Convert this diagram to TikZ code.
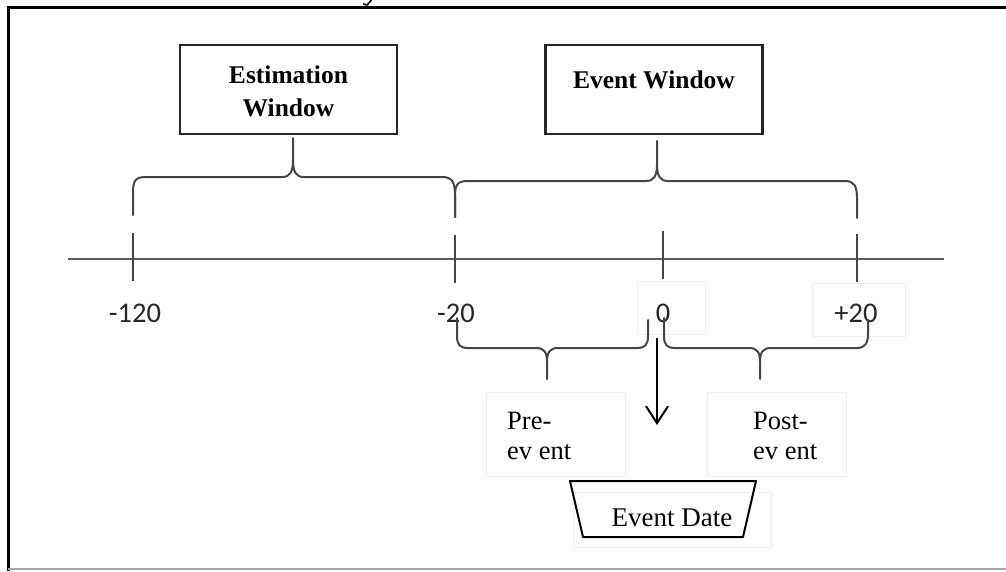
\documentclass[tikz,border=0pt]{standalone}
\usepackage{fontspec}
\setmainfont{Liberation Serif}
\newfontfamily\lblfont{Carlito}
\usetikzlibrary{arrows.meta}
\definecolor{bracegray}{HTML}{454545}
\definecolor{axisgray}{HTML}{5A5A5A}
\definecolor{faintline}{HTML}{F0F0F0}
\begin{document}
\begin{tikzpicture}[x=1pt,y=-1pt,
  titlebox/.style={draw=black!85,line width=2.2pt,minimum width=217pt,minimum height=89pt,inner sep=0pt},
  titletext/.style={font=\bfseries\fontsize{25.5}{33}\selectfont,align=center,inner sep=0pt},
  bracepath/.style={draw=bracegray,line width=2pt,line join=round,line cap=round},
  axisline/.style={draw=axisgray,line width=2.2pt},
  tickmark/.style={draw=bracegray,line width=1.8pt},
  ticklabel/.style={font=\lblfont\fontsize{28.5}{30}\selectfont,text=black!85,inner sep=0pt},
  faint/.style={draw=faintline,line width=1pt},
  phase/.style={font=\fontsize{26.5}{30}\selectfont,align=left,inner sep=0pt,anchor=north west},
]
\useasboundingbox (0,0) rectangle (1006,571);

% outer frame
\draw[line width=3pt] (8.5,571) -- (8.5,7) -- (1006,7);
\draw[black!35,line width=2pt] (8,568.5) -- (1006,568.5);
% stray stroke above the frame
\draw[line width=1.6pt,line cap=round] (371.5,0) -- (367,5) -- (363.5,4);

% window boxes
\node[titlebox] (est) at (288.5,89.5) {};
\node[titletext] (esttext) at (288.5,91) {Estimation\\Window};
\node[titlebox] (evw) at (654,89.5) {};
\node[titletext] (evwtext) at (654,80) {Event Window};

% time axis and ticks
\coordinate (axL) at (68,259);
\coordinate (axR) at (944,259);
\draw[axisline] (axL) -- (axR);
\draw[tickmark] (133,233) -- (133,281);
\draw[tickmark] (455,235) -- (455,283);
\draw[tickmark] (663,231) -- (663,279);
\draw[tickmark] (857,234) -- (857,282);

% faint label frames
\draw[faint] (637,281) rectangle (705,334);
\draw[faint] (812,283) rectangle (905,336);
\draw[faint] (486,392) rectangle (625,476);
\draw[faint] (707,392) rectangle (846,476);
\draw[faint] (573,492) rectangle (771,547);

% tick labels
\node[ticklabel] (l120) at (135,313) {-120};
\node[ticklabel] (l20m) at (456,313) {-20};
\node[ticklabel] (l0) at (663,313) {0};
\node[ticklabel] (l20p) at (856,313) {+20};

% upper braces
\draw[bracepath] (133,215) -- (133,192) .. controls (133,180) and (136,177) .. (146,177) -- (282,177)
  .. controls (290,177) and (293,172) .. (293,160) -- (293,138);
\draw[bracepath] (293,160) .. controls (293,172) and (296,177) .. (304,177) -- (442,177)
  .. controls (452,177) and (455,182) .. (455,195) -- (455,217);
\draw[bracepath] (455,217) -- (455,196) .. controls (455,184) and (458,181) .. (468,181) -- (646,181)
  .. controls (654,181) and (657,176) .. (657,164) -- (657,141);
\draw[bracepath] (657,164) .. controls (657,176) and (660,181) .. (668,181) -- (845,181)
  .. controls (854,181) and (857,186) .. (857,198) -- (857,218);

% lower braces
\draw[bracepath] (457,318) -- (457,336) .. controls (457,345) and (460,348) .. (468,348) -- (536,348)
  .. controls (544,348) and (547,352) .. (547,362) -- (547,379);
\draw[bracepath] (547,362) .. controls (547,352) and (550,348) .. (558,348) -- (637,348)
  .. controls (645,348) and (648,345) .. (648,336) -- (648,320);
\draw[bracepath] (664,318) -- (664,336) .. controls (664,345) and (667,348) .. (675,348) -- (749,348)
  .. controls (757,348) and (760,352) .. (760,362) -- (760,379);
\draw[bracepath] (760,362) .. controls (760,352) and (763,348) .. (771,348) -- (857,348)
  .. controls (865,348) and (868,343) .. (868,334) -- (868,320);

% phase labels
\node[phase] (pre) at (507,412) {Pre-\\ev ent};
\node[phase] (post) at (753,412) {Post-\\ev ent};

% event date marker
\coordinate (arrtop) at (657,338);
\coordinate (arrtip) at (657,425);
\draw[line width=2pt,-{Straight Barb[length=17pt,width=22pt,line width=2pt]}] (arrtop) -- (arrtip);
\draw[line width=2pt,line join=round] (570,481) -- (756,481) -- (743,537) -- (583,537) -- cycle;
\node[inner sep=0pt,font=\fontsize{27}{30}\selectfont] (edate) at (672,518) {Event Date};
\end{tikzpicture}
\end{document}
